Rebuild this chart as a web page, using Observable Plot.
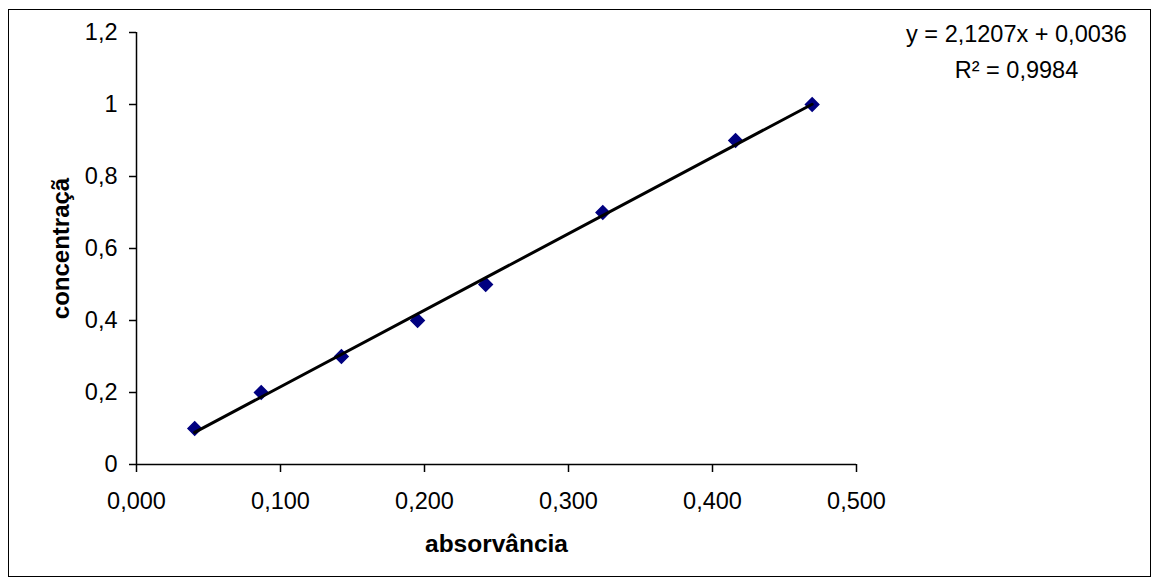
<!DOCTYPE html>
<html><head><meta charset="utf-8">
<script src="https://cdn.jsdelivr.net/npm/d3@7"></script>
<script src="https://cdn.jsdelivr.net/npm/@observablehq/plot@0.6"></script>
<style>
body{margin:0;background:#fff;}
#wrap{position:relative;width:1153px;height:579px;}
#border{position:absolute;left:8px;top:9px;width:1143px;height:568px;border:1.5px solid #000;box-sizing:border-box;pointer-events:none}
</style></head><body><div id="wrap"><div id="border"></div></div>
<script>
const absorvancia = [0.0404, 0.0866, 0.1423, 0.1952, 0.2425, 0.3238, 0.4160, 0.4692];
const concentracao = [0.1, 0.2, 0.3, 0.4, 0.5, 0.7, 0.9, 1.0];
const xTicks = [0, 0.1, 0.2, 0.3, 0.4, 0.5];
const yTicks = [0, 0.2, 0.4, 0.6, 0.8, 1.0, 1.2];
const equationLines = ["y = 2,1207x + 0,0036", "R² = 0,9984"];
const xLabel = "absorvância";
const yLabel = "concentraçã";

const data = absorvancia.map((x, i) => ({x, y: concentracao[i]}));
const fmtX = d => d.toFixed(3).replace(".", ",");
const fmtY = d => String(+d.toFixed(1)).replace(".", ",");

const chart = Plot.plot({
  width: 1153, height: 579,
  marginLeft: 136, marginRight: 297, marginTop: 32, marginBottom: 115,
  style: {fontFamily: "'Liberation Sans', Arial, sans-serif", fontSize: "23px", color: "#000", background: "transparent", overflow: "visible"},
  x: {domain: [0, 0.5]},
  y: {domain: [0, 1.2]},
  marks: [
    Plot.ruleY([0], {stroke: "#000", strokeWidth: 1.5}),
    Plot.ruleX([0], {stroke: "#000", strokeWidth: 1.5}),
    Plot.axisX({ticks: xTicks, tickFormat: fmtX, tickSize: 8, tickPadding: 20, stroke: "#000", strokeWidth: 1.5, label: null, fontSize: 23.5}),
    Plot.axisY({ticks: yTicks, tickFormat: fmtY, tickSize: 7, tickPadding: 12, stroke: "#000", strokeWidth: 1.5, label: null, fontSize: 23.5}),
    Plot.dot(data, {x: "x", y: "y", symbol: "diamond2", r: 6, fill: "#000080", stroke: "#000080"}),
    Plot.linearRegressionY(data, {x: "x", y: "y", stroke: "#000", strokeWidth: 3, ci: 0}),
    Plot.text([xLabel], {text: d => d, frameAnchor: "bottom", lineAnchor: "bottom", textAnchor: "middle", dy: 87, fontWeight: "bold", fontSize: 24.5}),
    Plot.text([yLabel], {text: d => d, frameAnchor: "left", lineAnchor: "bottom", textAnchor: "middle", rotate: -90, dx: -68, fontWeight: "bold", fontSize: 24}),
    Plot.text([equationLines[0]], {text: d => d, frameAnchor: "top-right", lineAnchor: "bottom", textAnchor: "middle", dx: 160, dy: 9, fontSize: 23.5}),
    Plot.text([equationLines[1]], {text: d => d, frameAnchor: "top-right", lineAnchor: "bottom", textAnchor: "middle", dx: 160, dy: 45, fontSize: 23.5})
  ]
});
chart.style.position = "absolute";
chart.style.left = "0px";
chart.style.top = "0px";
document.getElementById("wrap").appendChild(chart);
</script>
</body></html>
